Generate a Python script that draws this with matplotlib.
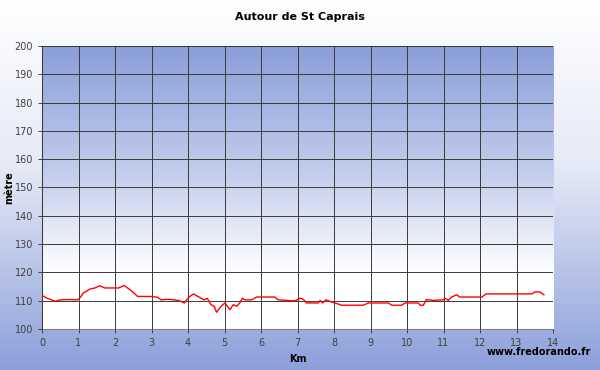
import matplotlib
matplotlib.use("Agg")
import matplotlib.pyplot as plt
import numpy as np
from matplotlib.colors import LinearSegmentedColormap

# elevation profile (km, metres)
km = [0.0, 0.12, 0.36, 0.5, 0.75, 0.97, 1.05, 1.13, 1.31, 1.45, 1.58, 1.72, 2.1,
      2.25, 2.44, 2.62, 2.99, 3.17, 3.26, 3.45, 3.62, 3.76, 3.9, 4.03, 4.15, 4.3,
      4.44, 4.53, 4.63, 4.72, 4.78, 4.9, 5.01, 5.15, 5.24, 5.33, 5.42, 5.49, 5.56,
      5.74, 5.88, 6.38, 6.47, 6.84, 6.95, 7.07, 7.15, 7.25, 7.57, 7.62, 7.69, 7.78,
      7.94, 8.03, 8.21, 8.8, 8.94, 9.49, 9.58, 9.85, 9.95, 10.31, 10.36, 10.45,
      10.52, 10.63, 10.7, 10.99, 11.04, 11.13, 11.22, 11.36, 11.44, 12.05, 12.17,
      13.42, 13.51, 13.64, 13.75]
alt = [111.9, 111.0, 109.8, 110.3, 110.4, 110.3, 111.2, 112.7, 114.1, 114.5, 115.3,
       114.5, 114.5, 115.4, 113.6, 111.5, 111.5, 111.2, 110.3, 110.5, 110.3, 110.0,
       109.2, 111.3, 112.4, 111.3, 110.3, 110.8, 108.6, 108.0, 105.9, 108.0, 109.2,
       106.8, 108.6, 108.0, 109.2, 110.9, 110.3, 110.3, 111.3, 111.3, 110.3, 110.0,
       110.0, 110.9, 110.6, 109.2, 109.2, 110.1, 109.2, 110.3, 109.5, 109.2, 108.4,
       108.4, 109.2, 109.2, 108.4, 108.4, 109.2, 109.2, 108.4, 108.4, 110.3, 110.3,
       110.1, 110.3, 110.9, 110.1, 111.3, 112.1, 111.3, 111.3, 112.4, 112.4, 113.1,
       113.1, 112.1]

XTICKS = list(range(0, 15))
YTICKS = list(range(100, 201, 10))


def main():
    fig = plt.figure(figsize=(6, 3.7), dpi=100)

    # figure background: white at top fading to blue at the bottom
    bg = fig.add_axes([0, 0, 1, 1], zorder=-2)
    bg_cmap = LinearSegmentedColormap.from_list(
        "bg", [(0, "#ffffff"), (0.45, "#e6eaf7"), (1, "#8c9fd9")])
    bg.imshow(np.linspace(0, 1, 256).reshape(-1, 1), aspect="auto", cmap=bg_cmap,
              extent=[0, 1, 0, 1], origin="upper")
    bg.axis("off")

    ax = fig.add_axes([0.07, 0.1108, 0.8517, 0.7649])
    # plot area: blue at the top fading to white around 120 m
    pa_cmap = LinearSegmentedColormap.from_list(
        "pa", [(0, "#8a9ed9"), (0.45, "#c3cdec"), (0.8, "#ffffff"), (1, "#ffffff")])
    ax.imshow(np.linspace(0, 1, 256).reshape(-1, 1), aspect="auto", cmap=pa_cmap,
              extent=[0, 14, 100, 200], origin="upper", zorder=0)

    ax.plot(km, alt, color="#ff0000", lw=1.0, zorder=3)

    ax.set_xlim(0, 14)
    ax.set_ylim(100, 200)
    ax.set_xticks(XTICKS)
    ax.set_yticks(YTICKS)
    ax.grid(True, color="#3a3a3a", lw=0.7, zorder=1)
    ax.set_axisbelow(False)
    for s in ["top", "right"]:
        ax.spines[s].set_visible(False)
    for s in ["left", "bottom"]:
        ax.spines[s].set_color("#808080")
    ax.tick_params(labelsize=7, colors="#404040", length=3, width=0.7)

    ax.set_xlabel("Km", fontsize=7, fontweight="bold", labelpad=4)
    ax.set_ylabel("mètre", fontsize=7, fontweight="bold")
    ax.yaxis.set_label_coords(-0.055, 0.5)
    fig.text(0.5, 0.955, "Autour de St Caprais", ha="center", va="center",
             fontsize=8, fontweight="bold")
    fig.text(0.985, 0.048, "www.fredorando.fr", ha="right", va="center",
             fontsize=7, fontweight="bold")

    fig.savefig("out.png", dpi=100)
    plt.close(fig)


if __name__ == "__main__":
    main()
